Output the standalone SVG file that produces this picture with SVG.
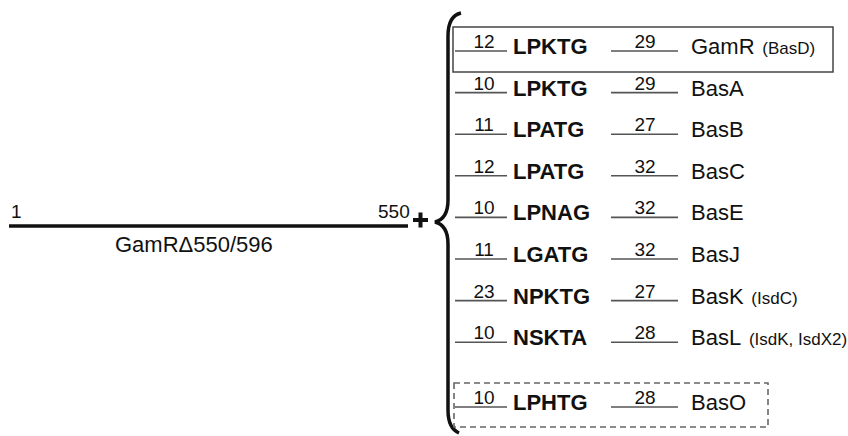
<svg xmlns="http://www.w3.org/2000/svg" width="848" height="436" viewBox="0 0 848 436">
<style>
text{font-family:"Liberation Sans",Arial,sans-serif;fill:#111}
.num{font-size:19px;text-anchor:middle}
.mot{font-size:22px;font-weight:bold}
.nm{font-size:22px}
.par{font-size:17px}
.ln{stroke:#555;stroke-width:1.6;fill:none}
</style>
<rect width="848" height="436" fill="#fff"/>
<g id="construct">
<line x1="9" y1="226" x2="408" y2="226" stroke="#111" stroke-width="3.5"/>
<text x="11" y="218" style="font-size:19px">1</text>
<text x="378" y="218" style="font-size:19px">550</text>
<text x="115" y="252" style="font-size:22px">GamRΔ550/596</text>
<path d="M413 220H428M420.5 212.5V227.5" stroke="#111" stroke-width="4" fill="none"/>
</g>
<g id="connectors">
<path d="M461 13C452 15 448 22 448 36L448 200C448 213 443 220 435 222C443 224 448 231 448 244L448 410C448 423 452 430 459 433" stroke="#111" stroke-width="3.5" fill="none"/>
</g>
<g id="row-GamR">
<rect x="453" y="27" width="380" height="45" fill="none" stroke="#444" stroke-width="1.5"/>
<line class="ln" x1="455" y1="51" x2="507" y2="51"/><text class="num" x="484" y="48">12</text>
<text class="mot" x="513" y="54">LPKTG</text>
<line class="ln" x1="611" y1="51" x2="678" y2="51"/><text class="num" x="645" y="48">29</text>
<text class="nm" x="691" y="54">GamR<tspan class="par" dx="3"> (BasD)</tspan></text>
</g>
<g id="row-BasA">
<line class="ln" x1="455" y1="92.6" x2="507" y2="92.6"/><text class="num" x="484" y="89.6">10</text>
<text class="mot" x="513" y="95.6">LPKTG</text>
<line class="ln" x1="611" y1="92.6" x2="678" y2="92.6"/><text class="num" x="645" y="89.6">29</text>
<text class="nm" x="691" y="95.6">BasA</text>
</g>
<g id="row-BasB">
<line class="ln" x1="455" y1="134.2" x2="507" y2="134.2"/><text class="num" x="484" y="131.2">11</text>
<text class="mot" x="513" y="137.2">LPATG</text>
<line class="ln" x1="611" y1="134.2" x2="678" y2="134.2"/><text class="num" x="645" y="131.2">27</text>
<text class="nm" x="691" y="137.2">BasB</text>
</g>
<g id="row-BasC">
<line class="ln" x1="455" y1="175.8" x2="507" y2="175.8"/><text class="num" x="484" y="172.8">12</text>
<text class="mot" x="513" y="178.8">LPATG</text>
<line class="ln" x1="611" y1="175.8" x2="678" y2="175.8"/><text class="num" x="645" y="172.8">32</text>
<text class="nm" x="691" y="178.8">BasC</text>
</g>
<g id="row-BasE">
<line class="ln" x1="455" y1="217.4" x2="507" y2="217.4"/><text class="num" x="484" y="214.4">10</text>
<text class="mot" x="513" y="220.4">LPNAG</text>
<line class="ln" x1="611" y1="217.4" x2="678" y2="217.4"/><text class="num" x="645" y="214.4">32</text>
<text class="nm" x="691" y="220.4">BasE</text>
</g>
<g id="row-BasJ">
<line class="ln" x1="455" y1="259" x2="507" y2="259"/><text class="num" x="484" y="256">11</text>
<text class="mot" x="513" y="262">LGATG</text>
<line class="ln" x1="611" y1="259" x2="678" y2="259"/><text class="num" x="645" y="256">32</text>
<text class="nm" x="691" y="262">BasJ</text>
</g>
<g id="row-BasK">
<line class="ln" x1="455" y1="300.6" x2="507" y2="300.6"/><text class="num" x="484" y="297.6">23</text>
<text class="mot" x="513" y="303.6">NPKTG</text>
<line class="ln" x1="611" y1="300.6" x2="678" y2="300.6"/><text class="num" x="645" y="297.6">27</text>
<text class="nm" x="691" y="303.6">BasK<tspan class="par" dx="3"> (IsdC)</tspan></text>
</g>
<g id="row-BasL">
<line class="ln" x1="455" y1="342.2" x2="507" y2="342.2"/><text class="num" x="484" y="339.2">10</text>
<text class="mot" x="513" y="345.2">NSKTA</text>
<line class="ln" x1="611" y1="342.2" x2="678" y2="342.2"/><text class="num" x="645" y="339.2">28</text>
<text class="nm" x="691" y="345.2">BasL<tspan class="par" dx="3"> (IsdK, IsdX2)</tspan></text>
</g>
<g id="row-BasO">
<rect x="454" y="383" width="314" height="44" fill="none" stroke="#666" stroke-width="1.6" stroke-dasharray="6,4"/>
<line class="ln" x1="455" y1="407" x2="507" y2="407"/><text class="num" x="484" y="404">10</text>
<text class="mot" x="513" y="410">LPHTG</text>
<line class="ln" x1="611" y1="407" x2="678" y2="407"/><text class="num" x="645" y="404">28</text>
<text class="nm" x="691" y="410">BasO</text>
</g>
</svg>
